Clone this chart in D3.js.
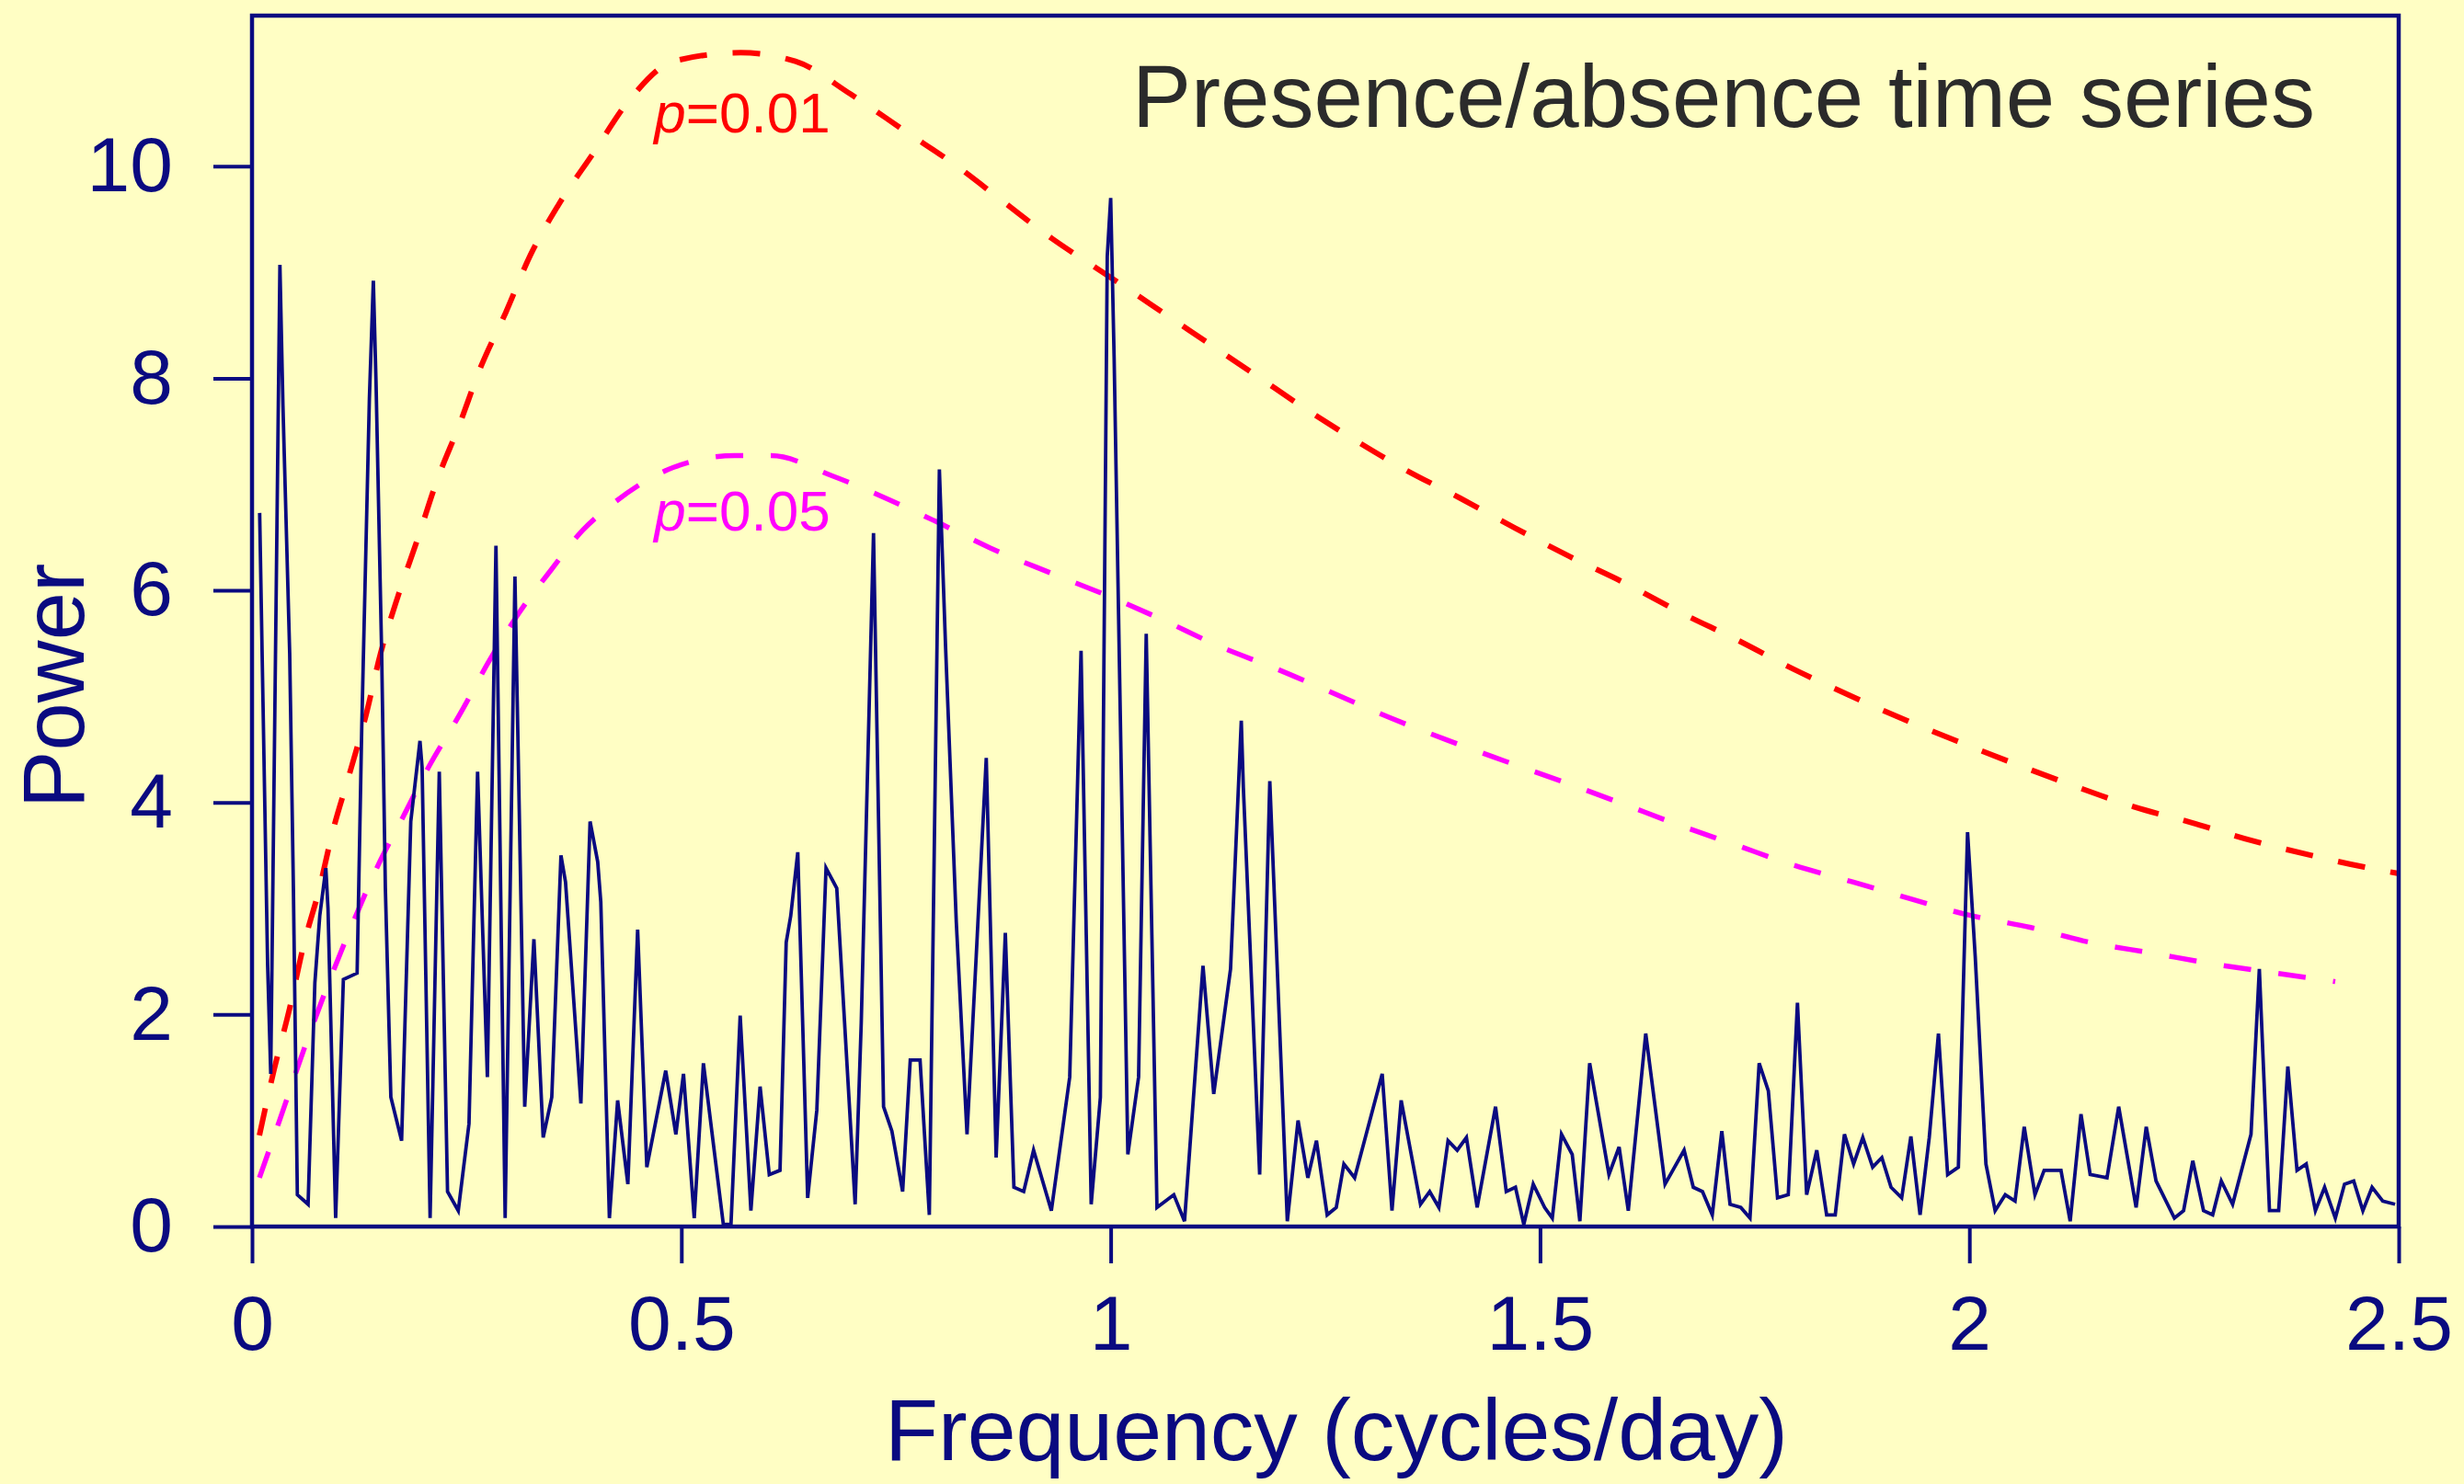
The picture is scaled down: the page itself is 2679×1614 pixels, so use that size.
<!DOCTYPE html>
<html>
<head>
<meta charset="utf-8">
<script src="https://cdn.jsdelivr.net/npm/d3@7/dist/d3.min.js"></script>
<style>
  html, body { margin: 0; padding: 0; background: #FFFEC4; }
  svg { display: block; }
  text { font-family: "Liberation Sans", Arial, Helvetica, sans-serif; }
</style>
</head>
<body>
<div id="chart"></div>
<script>
// Periodogram of the presence/absence series (frequency in cycles/day, power)
const freq = [
  0.0089, 0.0182, 0.0218, 0.0325, 0.0360, 0.0439, 0.0482, 0.0528, 0.0653, 0.0732,
  0.0789, 0.0860, 0.0885, 0.0974, 0.1064, 0.1224, 0.1278, 0.1367, 0.1413, 0.1445,
  0.1510, 0.1553, 0.1617, 0.1742, 0.1849, 0.1956, 0.1981, 0.2074, 0.2181, 0.2277,
  0.2402, 0.2527, 0.2627, 0.2741, 0.2841, 0.2948, 0.3062, 0.3176, 0.3283, 0.3391,
  0.3491, 0.3598, 0.3651, 0.3830, 0.3937, 0.4026, 0.4062, 0.4162, 0.4258, 0.4377,
  0.4491, 0.4598, 0.4818, 0.4936, 0.5025, 0.5150, 0.5257, 0.5489, 0.5578, 0.5685,
  0.5810, 0.5917, 0.6024, 0.6149, 0.6221, 0.6274, 0.6356, 0.6471, 0.6578, 0.6685,
  0.6810, 0.7024, 0.7095, 0.7238, 0.7355, 0.7452, 0.7577, 0.7666, 0.7780, 0.7888,
  0.8005, 0.8077, 0.8202, 0.8327, 0.8434, 0.8551, 0.8666, 0.8773, 0.8873, 0.8987,
  0.9102, 0.9309, 0.9523, 0.9655, 0.9773, 0.9880, 0.9960, 1.0000, 1.0040, 1.0200,
  1.0325, 1.0414, 1.0539, 1.0735, 1.0860, 1.1075, 1.1200, 1.1396, 1.1521, 1.1545,
  1.1735, 1.1853, 1.2057, 1.2182, 1.2296, 1.2396, 1.2521, 1.2627, 1.2716, 1.2841,
  1.3162, 1.3276, 1.3383, 1.3608, 1.3715, 1.3822, 1.3929, 1.4036, 1.4143, 1.4268,
  1.4482, 1.4607, 1.4714, 1.4811, 1.4921, 1.5054, 1.5143, 1.5250, 1.5375, 1.5464,
  1.5578, 1.5803, 1.5921, 1.6028, 1.6231, 1.6456, 1.6678, 1.6785, 1.6892, 1.7006,
  1.7117, 1.7213, 1.7338, 1.7445, 1.7552, 1.7659, 1.7766, 1.7891, 1.7998, 1.8105,
  1.8223, 1.8338, 1.8438, 1.8545, 1.8652, 1.8759, 1.8874, 1.8981, 1.9088, 1.9212,
  1.9319, 1.9426, 1.9533, 1.9640, 1.9747, 1.9872, 1.9979, 2.0068, 2.0193, 2.0300,
  2.0418, 2.0532, 2.0639, 2.0764, 2.0871, 2.1067, 2.1174, 2.1300, 2.1407, 2.1603,
  2.1739, 2.1942, 2.2060, 2.2174, 2.2388, 2.2495, 2.2602, 2.2727, 2.2834, 2.2934,
  2.3066, 2.3280, 2.3377, 2.3495, 2.3602, 2.3709, 2.3816, 2.3923, 2.4030, 2.4137,
  2.4262, 2.4369, 2.4476, 2.4583, 2.4690, 2.4815, 2.4958
];
const power = [
  6.73, 2.46, 1.44, 9.07, 7.75, 5.40, 3.19, 0.30, 0.21, 2.30,
  2.93, 3.38, 3.00, 0.08, 2.33, 2.39, 4.71, 7.81, 8.92, 7.94,
  5.40, 3.19, 1.22, 0.81, 3.82, 4.58, 4.33, 0.08, 4.29, 0.33,
  0.15, 0.97, 4.29, 1.41, 6.42, 0.08, 6.13, 1.13, 2.71, 0.84,
  1.22, 3.50, 3.25, 1.16, 3.82, 3.44, 3.06, 0.08, 1.19, 0.40,
  2.80, 0.56, 1.47, 0.87, 1.44, 0.08, 1.54, 0.02, 0.02, 1.99,
  0.15, 1.32, 0.49, 0.53, 2.68, 2.93, 3.53, 0.27, 1.10, 3.38,
  3.19, 0.21, 1.92, 6.54, 1.13, 0.90, 0.33, 1.57, 1.57, 0.11,
  7.14, 5.47, 2.87, 0.87, 2.55, 4.42, 0.65, 2.77, 0.37, 0.33,
  0.72, 0.15, 1.41, 5.43, 0.21, 1.22, 9.15, 9.70, 8.20, 0.68,
  1.41, 5.59, 0.18, 0.30, 0.05, 2.46, 1.25, 2.43, 4.77, 4.14,
  0.49, 4.20, 0.05, 1.00, 0.46, 0.81, 0.11, 0.18, 0.59, 0.46,
  1.44, 0.15, 1.19, 0.21, 0.33, 0.18, 0.81, 0.72, 0.84, 0.18,
  1.13, 0.33, 0.37, 0.02, 0.40, 0.18, 0.08, 0.87, 0.68, 0.05,
  1.54, 0.49, 0.75, 0.15, 1.82, 0.40, 0.72, 0.37, 0.33, 0.11,
  0.90, 0.21, 0.18, 0.08, 1.54, 1.28, 0.27, 0.30, 2.11, 0.30,
  0.72, 0.11, 0.11, 0.87, 0.59, 0.84, 0.56, 0.65, 0.37, 0.27,
  0.85, 0.11, 0.84, 1.82, 0.49, 0.56, 3.72, 2.55, 0.59, 0.15,
  0.30, 0.24, 0.94, 0.30, 0.53, 0.53, 0.05, 1.06, 0.49, 0.46,
  1.13, 0.18, 0.94, 0.43, 0.08, 0.15, 0.62, 0.15, 0.11, 0.43,
  0.21, 0.87, 2.43, 0.15, 0.15, 1.51, 0.53, 0.59, 0.15, 0.37,
  0.08, 0.40, 0.43, 0.15, 0.37, 0.24, 0.21
];

// Significance thresholds
const p01Freq = [
  0.0086, 0.0257, 0.0439, 0.0600, 0.0782, 0.0938, 0.1128, 0.1320, 0.1499, 0.1702,
  0.1927, 0.2156, 0.2409, 0.2666, 0.2955, 0.3241, 0.3565, 0.3972, 0.4400, 0.4910,
  0.5691, 0.6328, 0.6970, 0.7607, 0.8176, 0.8743, 0.9312, 0.9946, 1.0589, 1.1156,
  1.1724, 1.2291, 1.2859, 1.3426, 1.4069, 1.4705, 1.5343, 1.5985, 1.6663, 1.7302,
  1.7944, 1.8604, 1.9247, 1.9914, 2.0575, 2.1239, 2.1913, 2.2584, 2.3287, 2.3986,
  2.4601, 2.5000
];
const p01Power = [
  0.86, 1.48, 2.06, 2.65, 3.18, 3.72, 4.25, 4.80, 5.41, 5.95,
  6.48, 7.04, 7.55, 8.11, 8.62, 9.16, 9.63, 10.12, 10.63, 10.99,
  11.07, 10.99, 10.68, 10.33, 10.02, 9.67, 9.32, 8.98, 8.63, 8.32,
  8.01, 7.70, 7.41, 7.14, 6.87, 6.59, 6.32, 6.07, 5.78, 5.53,
  5.26, 5.01, 4.78, 4.56, 4.35, 4.15, 3.96, 3.81, 3.64, 3.50,
  3.39, 3.33
];
const p05Freq = [
  0.0086, 0.0316, 0.0600, 0.0889, 0.1178, 0.1464, 0.1751, 0.2061, 0.2420, 0.2752,
  0.3112, 0.3490, 0.3854, 0.4130, 0.4910, 0.5621, 0.6046, 0.6756, 0.7323, 0.7963,
  0.8597, 0.9312, 1.0021, 1.0610, 1.1271, 1.1930, 1.2537, 1.3251, 1.3911, 1.4590,
  1.5249, 1.5921, 1.6606, 1.7277, 1.7944, 1.8640, 1.9318, 1.9979, 2.0717, 2.1406,
  2.2120, 2.2816, 2.3565, 2.4261
];
const p05Power = [
  0.46, 0.99, 1.66, 2.29, 2.87, 3.40, 3.85, 4.34, 4.83, 5.32,
  5.79, 6.20, 6.57, 6.77, 7.16, 7.27, 7.27, 7.08, 6.89, 6.65,
  6.40, 6.16, 5.93, 5.72, 5.47, 5.26, 5.05, 4.80, 4.59, 4.39,
  4.20, 4.00, 3.79, 3.60, 3.41, 3.25, 3.09, 2.94, 2.82, 2.68,
  2.58, 2.48, 2.39, 2.31
];

const xTicks = [0, 0.5, 1, 1.5, 2, 2.5];
const yTicks = [0, 2, 4, 6, 8, 10];

const W = 2679, H = 1614;
const plot = { left: 274, right: 2608, top: 17, bottom: 1334 };
const navy = "#0a0a80";

const svg = d3.select("#chart").append("svg")
    .attr("width", W)
    .attr("height", H);

svg.append("rect")
    .attr("width", W).attr("height", H)
    .attr("fill", "#FFFEC4");

const x = d3.scaleLinear().domain([0, 2.5]).range([plot.left, plot.right]);
const y = d3.scaleLinear().domain([0, 11.42]).range([plot.bottom, plot.top]);

// threshold curves
const line = d3.line().x(d => x(d[0])).y(d => y(d[1])).curve(d3.curveMonotoneX);

svg.append("path")
    .datum(d3.zip(p01Freq, p01Power))
    .attr("d", line)
    .attr("fill", "none")
    .attr("stroke", "#FF0000")
    .attr("stroke-width", 6)
    .attr("stroke-dasharray", "30 28");

svg.append("path")
    .datum(d3.zip(p05Freq, p05Power))
    .attr("d", line)
    .attr("fill", "none")
    .attr("stroke", "#FF00FF")
    .attr("stroke-width", 5.5)
    .attr("stroke-dasharray", "30 30");

// periodogram
svg.append("path")
    .datum(d3.zip(freq, power))
    .attr("d", d3.line().x(d => x(d[0])).y(d => y(Math.max(0, d[1]))))
    .attr("fill", "none")
    .attr("stroke", navy)
    .attr("stroke-width", 3.8)
    .attr("stroke-linejoin", "miter");

// axes
const yAxis = d3.axisLeft(y).tickValues(yTicks).tickSize(42).tickSizeOuter(0).tickPadding(44);
const xAxis = d3.axisBottom(x).tickValues(xTicks).tickSize(40).tickSizeOuter(0).tickPadding(34)
    .tickFormat(d => String(d));

const gy = svg.append("g").attr("transform", `translate(${plot.left},0)`).call(yAxis);
const gx = svg.append("g").attr("transform", `translate(0,${plot.bottom})`).call(xAxis);

[gx, gy].forEach(g => {
    g.select(".domain").remove();
    g.selectAll(".tick line").attr("stroke", navy).attr("stroke-width", 4);
    g.selectAll(".tick text")
        .attr("fill", navy)
        .style("font-size", "84px");
});

// frame
svg.append("rect")
    .attr("x", plot.left).attr("y", plot.top)
    .attr("width", plot.right - plot.left)
    .attr("height", plot.bottom - plot.top)
    .attr("fill", "none")
    .attr("stroke", navy)
    .attr("stroke-width", 4.5);

// labels
svg.append("text")
    .attr("x", (plot.left + plot.right) / 2 + 12)
    .attr("y", 1588)
    .attr("text-anchor", "middle")
    .attr("fill", navy)
    .style("font-size", "95px")
    .text("Frequency (cycles/day)");

svg.append("text")
    .attr("transform", "translate(91,746) rotate(-90)")
    .attr("text-anchor", "middle")
    .attr("fill", navy)
    .style("font-size", "94px")
    .text("Power");

svg.append("text")
    .attr("x", 2517)
    .attr("y", 138)
    .attr("text-anchor", "end")
    .attr("fill", "#2b2b2b")
    .style("font-size", "96px")
    .text("Presence/absence time series");

function pLabel(txt, cx, by, color) {
    const t = svg.append("text")
        .attr("x", cx).attr("y", by)
        .attr("text-anchor", "middle")
        .attr("fill", color)
        .style("font-size", "62px");
    t.append("tspan").style("font-style", "italic").text("p");
    t.append("tspan").text(txt);
}
pLabel("=0.01", 807, 144, "#FF0000");
pLabel("=0.05", 807, 577, "#FF00FF");
</script>
</body>
</html>
